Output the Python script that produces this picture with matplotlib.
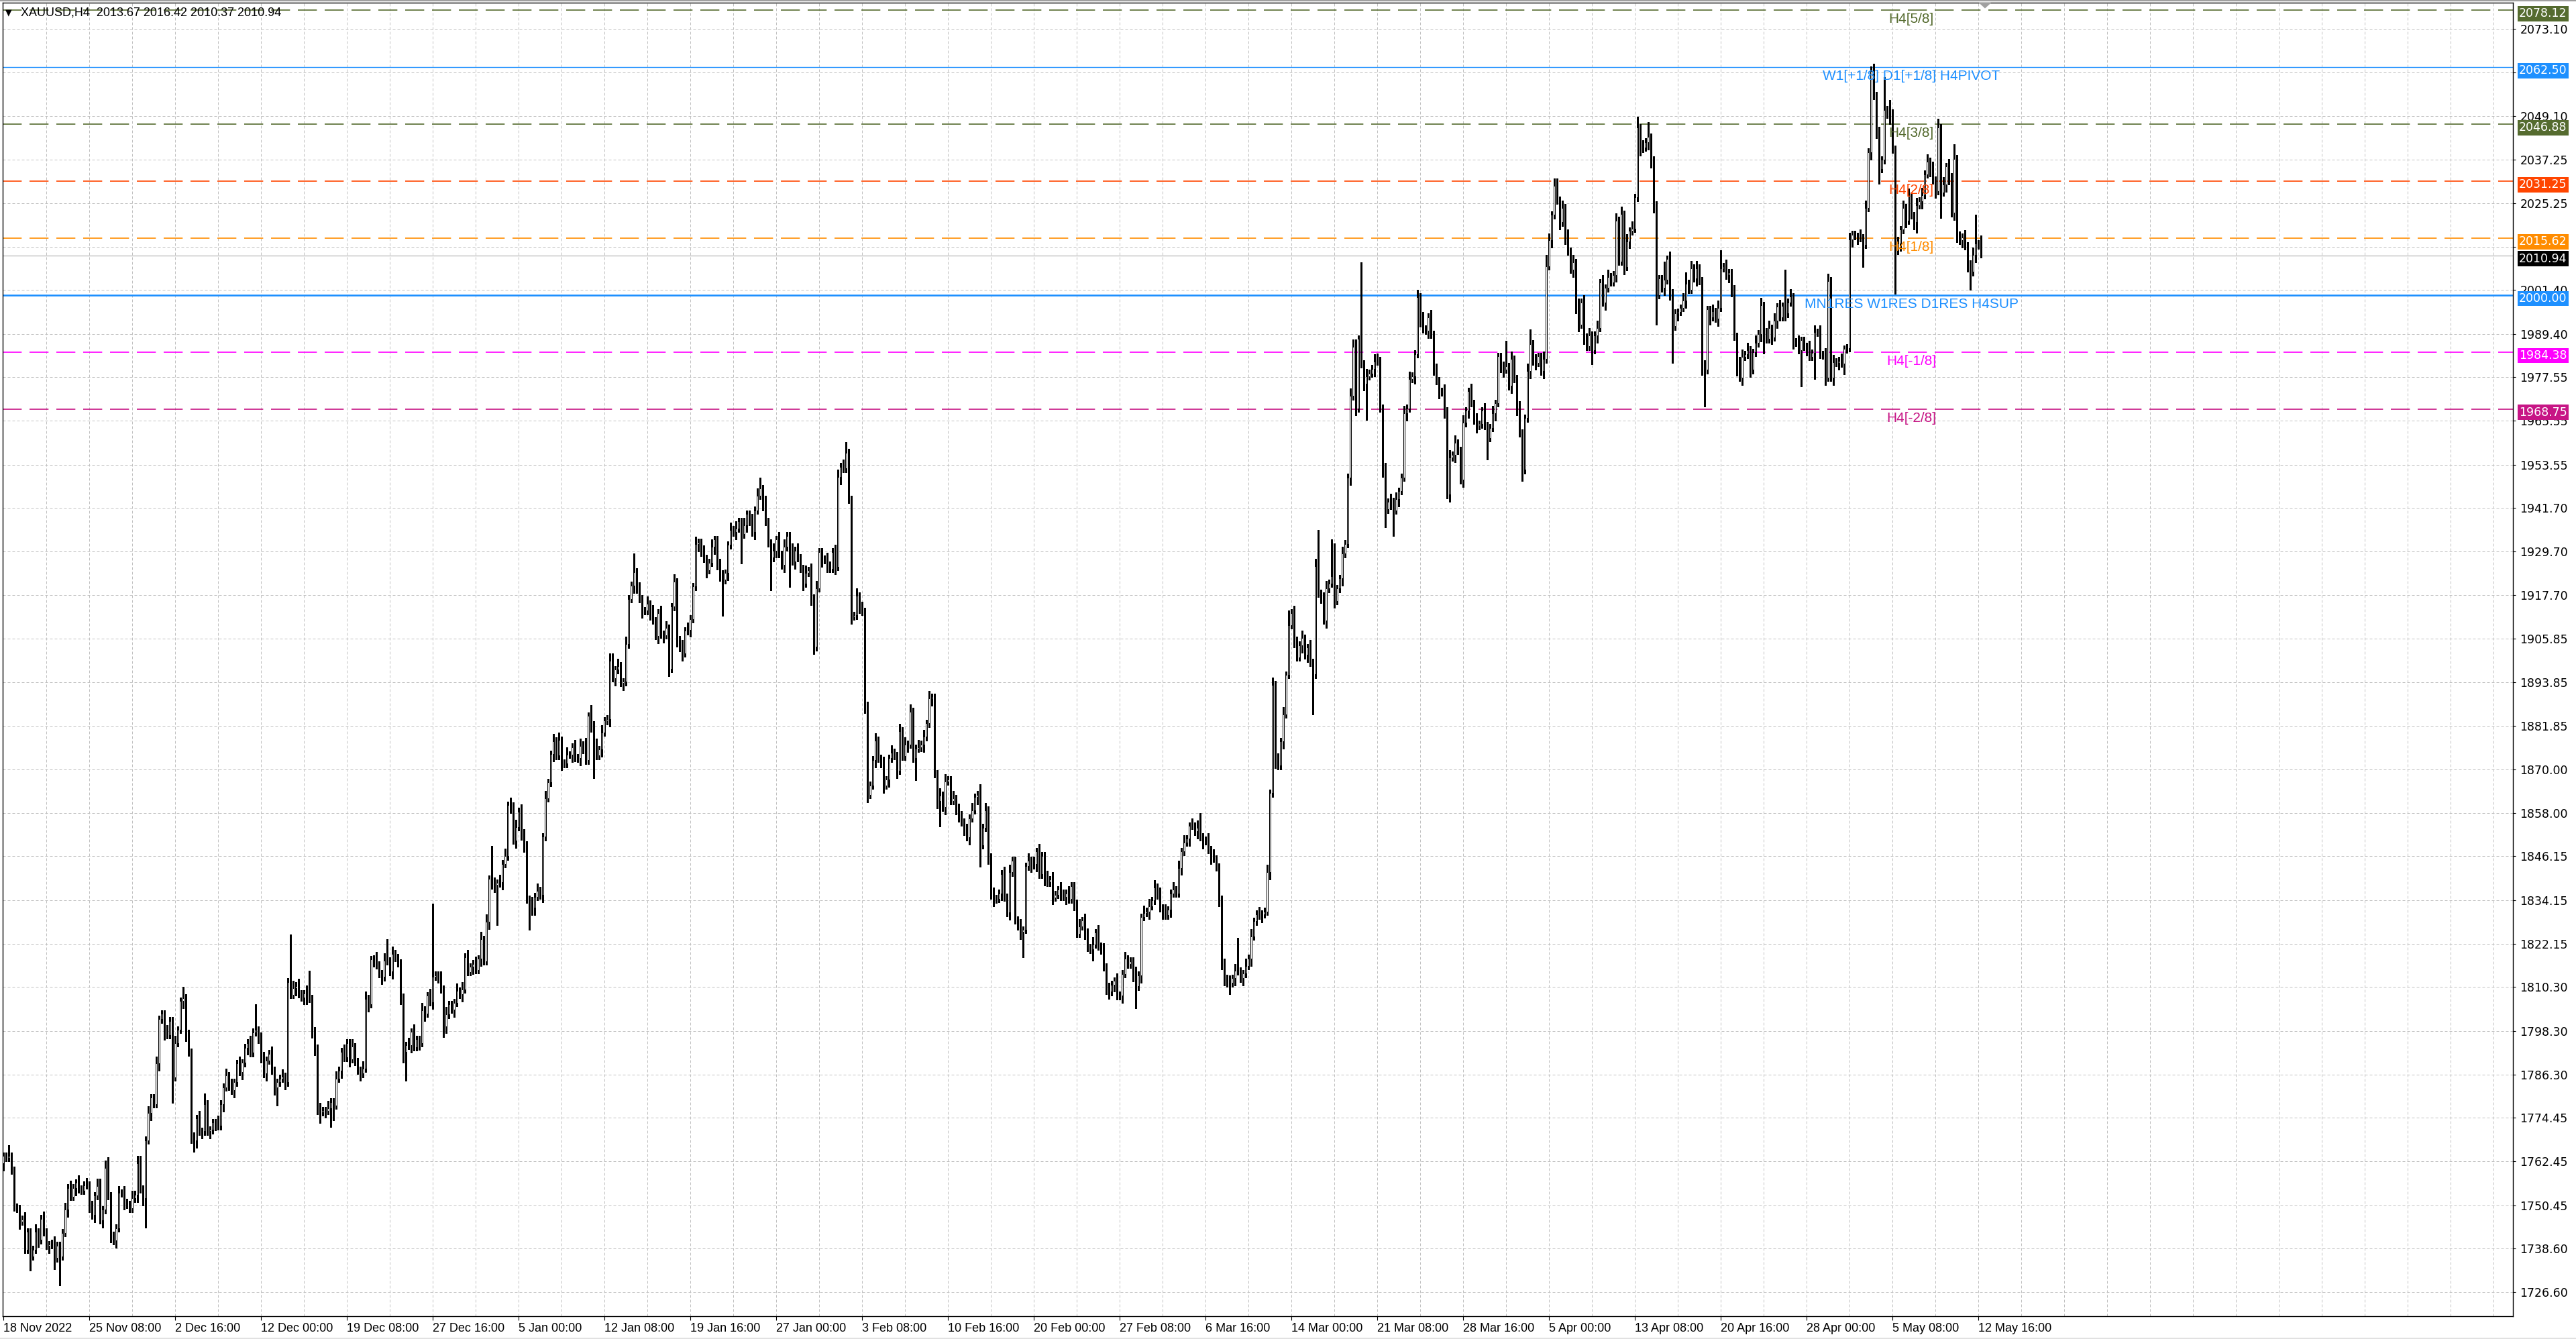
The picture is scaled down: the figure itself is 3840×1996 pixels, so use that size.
import matplotlib
matplotlib.use("Agg")
import matplotlib.pyplot as plt
import matplotlib.transforms as mtransforms
import numpy as np

# ---------------- data ----------------
first_open = 1762.0
closes = [
    1764, 1763.5, 1764, 1760, 1750, 1749.5,
    1746, 1746.6, 1738.3, 1743.2, 1736.5, 1738.3,
    1743.2, 1741, 1746.8, 1743.2, 1739.4, 1739.7,
    1740, 1736, 1739.4, 1736.5, 1742.9, 1749.2,
    1755.2, 1752.8, 1755.2, 1756.6, 1754.9, 1754.5,
    1756, 1756, 1750.6, 1747.8, 1753.1, 1755.7,
    1746.4, 1749.2, 1760.7, 1753.1, 1742.2, 1740.8,
    1744.2, 1753.8, 1753.8, 1751.3, 1750.6, 1749.6,
    1752.4, 1753.4, 1762, 1754.9, 1752.4, 1768.3,
    1775.7, 1780, 1778.2, 1789.3, 1801.5, 1803,
    1797.9, 1797.2, 1801, 1785.6, 1795, 1798.6,
    1806.5, 1807.3, 1796.5, 1792.4, 1769.5, 1768.2,
    1774.3, 1770.8, 1770.8, 1778.2, 1770.8, 1771.1,
    1773.2, 1773, 1772.2, 1778.2, 1782.8, 1786,
    1783.1, 1782, 1784.2, 1789.3, 1787, 1789.5,
    1793.7, 1795, 1792.3, 1797.9, 1798.6, 1796.9,
    1790.5, 1786.6, 1790.2, 1792, 1787.4, 1782.8,
    1784.2, 1785.2, 1785.8, 1784.2, 1811.7, 1808.2,
    1810, 1810.6, 1808.5, 1807.5, 1808.5, 1808.7,
    1807.1, 1798.3, 1792.6, 1777.5, 1776, 1776.5,
    1776.4, 1777, 1778.8, 1777.8, 1785.2, 1787.4,
    1792.6, 1791, 1795, 1790.5, 1794, 1789.8,
    1787.4, 1786.6, 1788, 1807.1, 1805.6, 1817.9,
    1818, 1816.4, 1814, 1813.1, 1817.5, 1817.5,
    1814.5, 1819.4, 1818.4, 1816.9, 1807.6, 1792.6,
    1794.3, 1794.3, 1798, 1793.8, 1796, 1795,
    1804, 1803, 1807.9, 1806.2, 1813.2, 1813.5,
    1812.5, 1809.7, 1799.6, 1802.8, 1805.5, 1804.1,
    1806, 1809.2, 1808.3, 1809.7, 1818.5, 1814.4,
    1815.8, 1816.7, 1815, 1818, 1823.4, 1817.4,
    1828.2, 1839.9, 1838.3, 1838.3, 1838.8, 1839,
    1844.1, 1846.2, 1860.2, 1860, 1850.5, 1854.2,
    1858.4, 1852.6, 1848.3, 1834.4, 1834, 1832,
    1835.1, 1836.7, 1835.5, 1851.5, 1862.1, 1866.4,
    1874.1, 1877.7, 1873.8, 1878, 1871.7, 1871.6,
    1874, 1874, 1876.1, 1873.2, 1873, 1876.4,
    1876.6, 1872.5, 1884.6, 1882.2, 1877.5, 1873.8,
    1875.4, 1880.1, 1883.3, 1883.8, 1899.7, 1895,
    1897.3, 1898.3, 1893.7, 1894, 1904.3, 1916.7,
    1920.4, 1924.1, 1919.3, 1916.7, 1913.5, 1913.5,
    1915.4, 1913, 1910.8, 1906.6, 1912.9, 1907.1,
    1906.8, 1908.7, 1897.6, 1914.6, 1921.4, 1905.6,
    1903.4, 1901.8, 1908, 1908.3, 1911.2, 1920.1,
    1931.8, 1932.2, 1929.4, 1927.8, 1924.6, 1926.7,
    1931, 1933, 1925.7, 1923.6, 1922, 1923.8,
    1931.5, 1935.7, 1935, 1936, 1938, 1934.5,
    1937, 1940, 1938, 1935, 1941, 1945,
    1947, 1943, 1938, 1932, 1928, 1930,
    1933, 1929, 1926, 1931, 1934, 1930,
    1927, 1930, 1928, 1925, 1921, 1923.9,
    1924.5, 1917, 1903.6, 1919.7, 1929.6, 1927.6,
    1927.4, 1926, 1925, 1929.6, 1925.5, 1950.2,
    1953, 1952.5, 1956.8, 1944, 1911.9, 1912.2,
    1917.6, 1914.9, 1913.3, 1886.5, 1863, 1865.6,
    1872.6, 1877.9, 1873, 1871.5, 1865.6, 1867.2,
    1873, 1874.6, 1873.8, 1869.6, 1880.5, 1873.6,
    1876.7, 1876.8, 1885.8, 1873, 1875.7, 1876,
    1876.8, 1878.9, 1882.6, 1889.5, 1889.8, 1868.8,
    1861.3, 1862.8, 1859.6, 1866.7, 1867.2, 1861.4,
    1862, 1859.6, 1856.6, 1855.5, 1854, 1851.4,
    1856.6, 1858.8, 1862.4, 1863, 1849.2, 1854,
    1858.8, 1846, 1835.5, 1834.4, 1834.5, 1836,
    1841.3, 1834.9, 1830.7, 1841.8, 1845, 1828.6,
    1827, 1825.5, 1826, 1843.4, 1845, 1843.8,
    1844, 1847.5, 1841.2, 1846.3, 1840.2, 1839,
    1839.8, 1834.9, 1835.6, 1837, 1836, 1835,
    1836, 1834.4, 1838, 1833.3, 1824.9, 1827,
    1828.5, 1825.4, 1821.2, 1820.6, 1822, 1825.2,
    1821.5, 1821.4, 1815.8, 1809.4, 1809, 1811,
    1812, 1807.9, 1808, 1813.9, 1818, 1816.6,
    1817.4, 1813.8, 1810.5, 1813.5, 1829.5, 1830.6,
    1831, 1832.5, 1834, 1837.6, 1836.5, 1832,
    1831, 1830, 1831.5, 1836, 1837, 1836,
    1843, 1847.5, 1850, 1851, 1854.5, 1854.5,
    1853, 1854, 1851.5, 1850.3, 1850.5, 1847.9,
    1846, 1845.5, 1843.2, 1834.4, 1816.1, 1812.7,
    1811.4, 1811.4, 1812.7, 1814.7, 1814.7, 1812.7,
    1814, 1816.1, 1818.1, 1824.2, 1828.3, 1830.3,
    1830, 1830.3, 1831, 1841.8, 1863.5, 1893.2,
    1872.3, 1871, 1877.6, 1885.1, 1895.9, 1909.5,
    1912.9, 1905.4, 1900.7, 1904, 1906, 1901.4,
    1903.4, 1899.3, 1896, 1925.7, 1918.3, 1917.6,
    1910.8, 1919.6, 1921, 1923, 1916.2, 1919.6,
    1922.3, 1929.1, 1931.8, 1950, 1972.4, 1985.9,
    1969, 1988, 1981.2, 1975.8, 1977.8, 1978.5,
    1979.8, 1981.8, 1982, 1969, 1952.1, 1941.3,
    1943.3, 1943.5, 1941, 1944, 1946.3, 1950,
    1967.7, 1969, 1977.1, 1977.8, 1983.9, 1999.5,
    1993.4, 1990.7, 1990.3, 1994, 1989.3, 1979.2,
    1976.5, 1973.7, 1973.5, 1968.3, 1945.3, 1955.5,
    1956.2, 1959.5, 1957.5, 1949.4, 1965, 1968.3,
    1973.7, 1970.4, 1965.6, 1964.3, 1964.6, 1968.3,
    1964.2, 1960.9, 1963.6, 1967.7, 1970.4, 1983.2,
    1979.8, 1979.6, 1980.5, 1975.1, 1982.5, 1977.1,
    1969, 1962.2, 1952.1, 1966.3, 1979.2, 1986.6,
    1981.9, 1981.5, 1983.2, 1979.2, 1982.5, 2008,
    2015, 2022, 2030, 2026, 2020, 2024,
    2016, 2012, 2007, 2009, 1996, 1992,
    1998, 1988.6, 1986, 1989, 1985, 1989,
    1991, 2003.5, 1998, 2002, 2005, 2003.5,
    2005.6, 2020.5, 2009.2, 2022.2, 2007.8, 2014.8,
    2017.6, 2018.3, 2026.8, 2045.9, 2040.2, 2040.5,
    2042, 2043.4, 2036, 2024.7, 2000, 2004.6,
    2002, 2004.2, 2009.9, 2000.7, 1991.5, 1995.1,
    1995.4, 1996.5, 1998.6, 2003.2, 2001.5, 2007.4,
    2004.6, 2007.4, 2003.9, 1980.2, 1979.5, 1996.1,
    1994, 1995.5, 1993.6, 1996.5, 2007.4, 2007.8,
    2005.5, 2006.2, 2000.7, 1988.7, 1982, 1977.4,
    1983.1, 1983.8, 1985, 1979.5, 1984.3, 1986.9,
    1989.4, 1997.2, 1990, 1988, 1991, 1988.5,
    1993, 1996.8, 1994, 1997, 1995, 1998,
    1999.6, 1987.3, 1987, 1985, 1987.6, 1985.9,
    1985.5, 1983.1, 1984.1, 1989.8, 1989.8, 1983.8,
    1983.5, 1977.4, 2003.9, 1977.4, 1981.7, 1981.5,
    1982, 1981.3, 1985.2, 1985.5, 2015.2, 2016.6,
    2016.2, 2016, 2015.8, 2013.8, 2024, 2039.2,
    2061.5, 2054.7, 2044.1, 2034.6, 2037.1, 2050.8,
    2049.5, 2049, 2040, 2012.3, 2014.1, 2018,
    2024, 2020.5, 2027.2, 2021.9, 2020.1, 2024.7,
    2025.8, 2027.5, 2033.2, 2036.7, 2034.6, 2031.5,
    2028.6, 2045.9, 2028.2, 2030.3, 2035.3, 2031.4,
    2022.6, 2037.4, 2015.5, 2015, 2015.9, 2013.5,
    2008.5, 2006.4, 2011, 2014.1, 2013.67, 2010.94,
]
wick_up = [
    1,1,3,1,1,1, 1,1,2,1,1,1, 2,1,1,2,1,1, 1,2,1,1,1,2,
    1,2,1,1,2,1, 1,2,1,1,1,2, 2,1,2,3,1,1, 1,2,1,2,1,1,
    2,1,2,2,1,1, 2,1,1,2,1,1, 1,2,1,1,2,1, 1,3,1,2,1,1,
    1,2,1,3,1,1, 1,1,2,1,1,2, 1,2,1,1,2,1, 1,1,2,1,7,1,
    1,2,1,1,2,1, 1,1,2,1,1,13, 2,1,2,1,1,2, 6,1,1,2,1,1,
    1,2,1,1,2,1, 1,2,1,1,2,1, 1,1,2,2,1,1, 1,2,1,1,2,6,
    1,2,1,1,1,1, 1,2,1,2,1,1, 2,1,1,2,20,1, 1,2,1,2,1,1,
    1,2,1,2,1,2, 1,1,2,1,2,1, 2,1,9,2,1,2, 1,2,1,2,1,2,
    1,2,1,2,1,1, 1,2,1,1,2,1, 1,2,1,2,1,1, 2,1,1,2,1,2,
    1,2,1,3,1,1, 1,2,1,1,2,2, 1,2,1,1,2,1, 1,5,1,2,1,1,
    2,1,2,1,1,2, 1,2,1,1,2,1, 1,2,1,2,1,1, 2,1,1,2,1,1,
    2,1,1,2,1,1, 1,2,1,2,1,1, 2,1,1,2,1,2, 3,1,2,1,1,2,
    1,2,1,2,1,1, 2,1,2,1,1,2, 1,2,1,2,1,1, 1,2,1,1,2,2,
    1,2,3,1,1,1, 2,1,1,1,2,1, 1,2,1,1,2,1, 1,2,1,1,2,1,
    2,1,2,1,1,2, 1,2,1,2,1,1, 1,2,1,2,1,1, 2,1,1,2,1,1,
    1,2,1,1,3,1, 2,1,1,2,1,1, 1,2,1,2,1,1, 1,2,1,1,2,1,
    2,1,2,1,1,2, 1,2,1,1,2,1, 1,2,1,1,1,2, 1,2,1,1,2,1,
    2,1,1,1,2,1, 1,2,1,1,2,1, 1,1,2,1,1,2, 1,2,1,2,1,1,
    1,2,1,1,2,1, 2,1,2,1,1,2, 1,2,4,1,1,2, 1,2,1,1,1,2,
    1,2,1,2,9,1, 1,2,1,2,1,1, 2,1,1,2,1,2, 1,2,1,2,1,4,
    1,2,1,1,2,1, 1,2,1,2,10,1, 1,2,1,10,9,1, 1,2,1,1,2,2,
    2,1,21,1,2,1, 1,2,2,1,1,2, 1,2,1,2,1,1, 2,1,2,1,1,2,
    1,2,1,1,2,1, 2,1,1,2,1,2, 1,2,1,1,2,1, 1,2,1,2,1,1,
    2,1,1,2,1,1, 1,2,7,1,2,1, 1,2,1,1,2,4, 1,2,1,1,2,3,
    2,1,2,2,1,2, 1,2,1,2,1,3, 1,2,1,2,1,1, 2,1,2,1,2,1,
    1,2,1,2,1,2, 1,2,1,3,1,2, 1,4,1,2,1,1, 1,5,1,2,1,1,
    1,1,2,3,1,2, 1,2,1,1,2,1, 1,2,1,2,5,1, 2,1,1,2,1,1,
    2,1,2,1,1,2, 1,2,1,1,2,1, 2,1,2,1,10,1, 2,1,1,2,1,1,
    1,2,1,2,1,2, 1,2,2,1,2,1, 1,2,1,1,2,1, 1,1,2,1,2,1,
    1.3,2,1,2,1,9, 1,4,2,1,2,1, 2,1,2,1,1,2, 1,2,1,2,1,2,
    1,2.4,1,2,1,2, 2,4,1,2,1,2, 1,1,2,8,1,2.75,
]
wick_dn = [
    2,1,1,1,1,1, 2,1,1,1,4,1, 1,2,1,1,1,2, 1,3,1,8,1,1,
    2,1,1,2,1,1, 1,1,2,1,2,1, 1,2,1,1,2,1, 2,1,1,2,1,1,
    1,1,2,1,2,8, 1,2,1,1,2,1, 2,1,1,7,1,1, 1,2,1,1,2,3,
    2,1,2,1,1,2, 1,2,1,1,2,1, 1,1,2,1,1,2, 1,2,1,1,1,2,
    1,1,2,1,1,2, 5,1,1,2,1,1, 1,2,1,1,2,3, 1,2,1,2,3,1,
    2,1,5,4,1,1, 2,1,1,2,1,1, 1,2,1,1,2,1, 2,1,1,2,1,1,
    1,2,1,1,2,3, 8,1,2,1,1,2, 1,2,1,1,2,1, 1,1,3,2,1,1,
    2,1,1,2,1,1, 1,2,1,1,2,1, 1,2,1,2,11,1, 2,1,1,2,1,2,
    1,2,1,1,8,2, 2,1,1,2,1,1, 1,2,1,1,2,1, 1,1,2,1,1,2,
    2,1,1,2,10,1, 1,2,1,1,2,1, 2,1,1,2,1,1, 1,2,1,1,2,1,
    1,2,1,1,2,1, 2,1,2,1,1,2, 1,2,1,1,2,1, 1,2,1,1,2,1,
    1,2,1,2,10,1, 2,1,1,2,1,8, 1,2,1,1,2,1, 1,2,1,1,9,1,
    2,1,1,2,1,10, 1,2,1,1,2,1, 1,2,2,1,1,2, 1,2,1,1,2,1,
    2,1,1,1,2,1, 1,2,1,1,2,1, 1,2,1,1,2,1, 2,1,1,2,1,1,
    1,2,1,1,6,1, 1,2,1,1,2,1, 2,7,1,2,1,1, 1,2,1,1,2,1,
    2,1,1,2,6,1, 1,2,1,2,1,1, 2,1,1,2,1,1, 1,2,7,1,1,2,
    1,2,1,1,2,1, 1,2,1,1,2,1, 2,1,1,2,1,1, 1,2,1,1,3,1,
    1,2,1,1,2,1, 2,1,1,2,1,1, 1,2,6,1,2,1, 1,2,1,1,2,1,
    2,1,1,2,1,1, 1,2,1,1,2,1, 1,2,1,2,1,1, 2,1,1,2,1,2,
    1,3,1,2,1,1, 2,1,1,2,1,1, 1,2,1,1,2,1, 2,1,1,2,1,1,
    1,2,1,1,2,1, 2,1,11,1,1,2, 1,2,1,1,2,1, 1,2,1,1,2,1,
    2,1,1,2,10,1, 1,2,1,1,2,5, 1,2,7,1,2,1, 1,2,1,1,2,1,
    2,1,1,2,1,1, 1,2,1,2,1,2, 1,2,1,1,2,1, 2,1,1,2,1,1,
    1,6,1,1,2,1, 1,2,1,1,2,1, 2,1,3,1,1,2, 1,2,1,1,2,1,
    1,2,1,1,2,1, 2,1,1,2,1,2, 1,2,1,1,4,1, 2,1,1,2,1,1,
    1,2,1,1,2,1, 2,1,1,1,2,1, 1,2,1,2,8,1, 1,2,1,2,10,1,
    2,1,1,2,1,1, 1,2,1,2,10,1, 2,1,1,2,1,1, 1,2,1,1,4,1,
    2,1,1,2,1,1, 1,2,6,1,1,2, 1,2,1,1,2,1, 1,2,1,1,10,1,
    2,1,1,7,1,1, 1,2,1,1,2,1, 2,1,3,1,1,2, 1,2,1,6,1,1,
    2,1,1,4,1,1, 1,2,1,12,1,2, 1,2,1,1,2,3, 1,2,1,1,2,1,
    2,1,7,1,2,1, 1,2,1,1,2,1, 2,5,1,2,1,0.57,
]

time_labels = [
    "18 Nov 2022", "25 Nov 08:00", "2 Dec 16:00", "12 Dec 00:00", "19 Dec 08:00",
    "27 Dec 16:00", "5 Jan 00:00", "12 Jan 08:00", "19 Jan 16:00", "27 Jan 00:00",
    "3 Feb 08:00", "10 Feb 16:00", "20 Feb 00:00", "27 Feb 08:00", "6 Mar 16:00",
    "14 Mar 00:00", "21 Mar 08:00", "28 Mar 16:00", "5 Apr 00:00", "13 Apr 08:00",
    "20 Apr 16:00", "28 Apr 00:00", "5 May 08:00", "12 May 16:00",
]
price_ticks = [
    2073.10, 2061.10, 2049.10, 2037.25, 2025.25, 2013.25, 2001.40, 1989.40,
    1977.55, 1965.55, 1953.55, 1941.70, 1929.70, 1917.70, 1905.85, 1893.85,
    1881.85, 1870.00, 1858.00, 1846.15, 1834.15, 1822.15, 1810.30, 1798.30,
    1786.30, 1774.45, 1762.45, 1750.45, 1738.60, 1726.60,
]
# scale prices whose labels sit fully under a price box in the reference
hidden_ticks = [2061.10, 2013.25]
levels = [2078.12, 2062.50, 2046.88, 2031.25, 2015.62, 2000.00, 1984.38, 1968.75]
level_names = ["H4[5/8]", "W1[+1/8] D1[+1/8] H4PIVOT", "H4[3/8]", "H4[2/8]",
               "H4[1/8]", "MN1RES W1RES D1RES H4SUP", "H4[-1/8]", "H4[-2/8]"]
level_colors = ["#556B2F", "#1E90FF", "#556B2F", "#FF4500",
                "#FF8C00", "#1E90FF", "#FF00FF", "#C71585"]
level_solid = [False, True, False, False, False, True, False, False]
level_widths = [1.2, 1.0, 1.2, 1.2, 1.2, 1.9, 1.2, 1.2]
current_price = 2010.94
title = "XAUUSD,H4  2013.67 2016.42 2010.37 2010.94"

# ---------------- figure ----------------
W, H = 3840, 1996
plt.rcParams['font.family'] = ['Liberation Sans', 'DejaVu Sans']
fig = plt.figure(figsize=(W / 100, H / 100), dpi=100)
fig.patch.set_facecolor('white')
ax_l, ax_r, ax_t, ax_b = 4.0, 3746.0, 4.3, 1961.7
ax = fig.add_axes([ax_l / W, (H - ax_b) / H, (ax_r - ax_l) / W, (ax_b - ax_t) / H])
ax.set_facecolor('white')

n = len(closes)
xs = np.arange(n)
c = np.array(closes, dtype=float)
o = np.concatenate([[first_open], c[:-1]])
hi = np.maximum(o, c) + np.array(wick_up, dtype=float)
lo = np.minimum(o, c) - np.array(wick_dn, dtype=float)

ax.set_xlim(-0.3, 935.25)
ax.set_ylim(1720.1, 2080.15)

# grid
grid_kw = dict(color='#C0C0C0', lw=0.72, ls=(0, (4, 3)), zorder=1)
for v in price_ticks:
    ax.axhline(v, **grid_kw)
for xv in range(16, 935, 16):
    ax.axvline(xv, **grid_kw)

# levels
for lv, name, col, solid, lw in zip(levels, level_names, level_colors, level_solid, level_widths):
    ls = '-' if solid else (0, (17, 7))
    ax.axhline(lv, color=col, lw=lw, ls=ls, zorder=2)
    ax.text(711, lv, name, color=col, fontsize=15, ha='center', va='top', zorder=6,
            transform=mtransforms.offset_copy(ax.transData, fig=fig, x=0, y=-4, units='dots'))
ax.axhline(current_price, color='#C0C0C0', lw=1.0, zorder=2)

# candles
ax.vlines(xs, lo, hi, color='black', lw=0.75, zorder=3, antialiased=False)
up = c >= o
body_lo = np.minimum(o, c)
body_h = np.abs(c - o)
ax.bar(xs[up], body_h[up], bottom=body_lo[up], width=0.6, facecolor='white',
       edgecolor='black', lw=0.72, zorder=4, antialiased=False)
ax.bar(xs[~up], body_h[~up], bottom=body_lo[~up], width=0.6, facecolor='black',
       edgecolor='black', lw=0.72, zorder=4, antialiased=False)

# axes styling
for sp in ax.spines.values():
    sp.set_color('black')
    sp.set_linewidth(1.0)
ax.yaxis.tick_right()
ax.set_yticks(price_ticks,
              labels=["" if v in hidden_ticks else f"{v:.2f}" for v in price_ticks],
              fontsize=12.5, fontfamily='DejaVu Sans')
ax.tick_params(axis='y', direction='out', length=3, width=0.8, pad=4.5, colors='black')
ax.set_xticks(list(range(0, 32 * len(time_labels), 32)), labels=time_labels,
              fontsize=13, ha='left')
ax.tick_params(axis='x', direction='out', length=4, width=0.8, pad=3.5, colors='black')

# price boxes on the right axis (slightly below their line, as in the terminal)
box_tr = mtransforms.offset_copy(
    mtransforms.blended_transform_factory(ax.transAxes, ax.transData),
    fig=fig, x=9, y=-5, units='dots')
for lv, col in zip(levels, level_colors):
    ax.text(1.0, lv, f"{lv:.2f}", transform=box_tr, ha='left', va='center',
            fontsize=12.5, fontfamily='DejaVu Sans', color='white', zorder=10,
            clip_on=False, bbox=dict(boxstyle='square,pad=0.14', fc=col, ec='none'))
ax.text(1.0, current_price, f"{current_price:.2f}", transform=box_tr, ha='left',
        va='center', fontsize=12.5, fontfamily='DejaVu Sans', color='white', zorder=11,
        clip_on=False, bbox=dict(boxstyle='square,pad=0.14', fc='black', ec='none'))

# chart shift marker
ax.plot([738.3], [1.0], transform=mtransforms.blended_transform_factory(ax.transData, ax.transAxes),
        marker=[(-1, 0), (1, 0), (0, -0.9)], ms=12, color='#A0A0A0', clip_on=False, zorder=12)

# title
fig.text(8 / W, 1 - 19 / H, "\u25BC", fontsize=9, va='center', ha='left', fontfamily='DejaVu Sans')
fig.text(31 / W, 1 - 19 / H, title, fontsize=13, va='center', ha='left',
         fontfamily='Liberation Sans')

# window border
fig.add_artist(plt.Line2D([0, 1], [1 - 1 / H, 1 - 1 / H], transform=fig.transFigure,
                          color='#A0A0A0', lw=1.5))
fig.add_artist(plt.Line2D([0, 1], [1 / H, 1 / H], transform=fig.transFigure,
                          color='#E0E0E0', lw=2))

fig.savefig("out.png", dpi=100, facecolor='white')
